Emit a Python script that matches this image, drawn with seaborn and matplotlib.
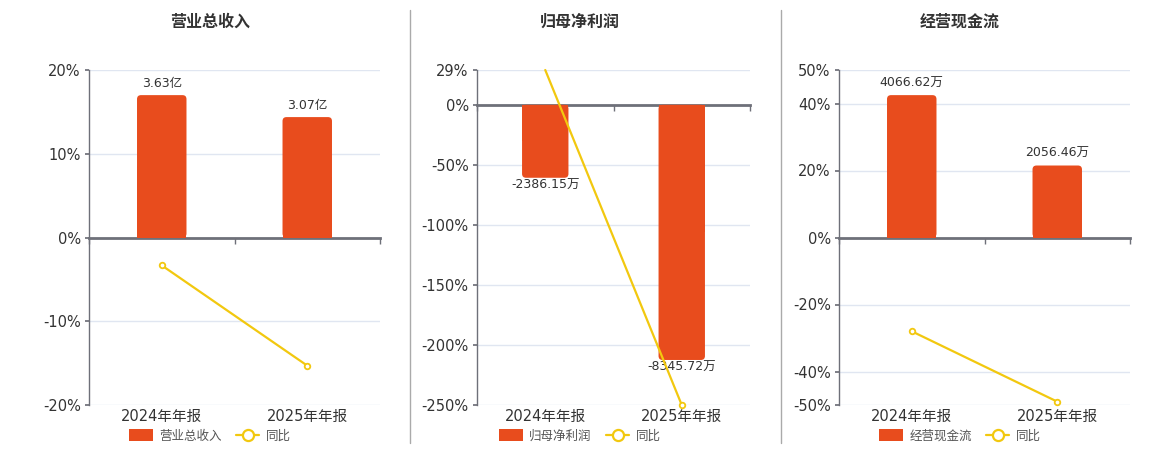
import matplotlib
matplotlib.use("Agg")
import matplotlib.pyplot as plt
import seaborn as sns
import pandas as pd
from matplotlib.patches import FancyBboxPatch, Rectangle, Patch
from matplotlib.lines import Line2D

sns.set_theme(style="white")
plt.rcParams['font.family'] = ['DejaVu Sans', 'Noto Sans CJK SC']

# ---------------- data ----------------
periods = ["2024年年报", "2025年年报"]

titles = ["营业总收入", "归母净利润", "经营现金流"]

revenue = [3.63, 3.07]            # 亿
revenue_labels = ["3.63亿", "3.07亿"]
revenue_yoy = [-3.33, -15.3]      # %

profit = [-2386.15, -8345.72]     # 万
profit_labels = ["-2386.15万", "-8345.72万"]
profit_yoy = [29.0, -250.0]       # %

cashflow = [4066.62, 2056.46]     # 万
cashflow_labels = ["4066.62万", "2056.46万"]
cashflow_yoy = [-28.0, -49.0]     # %

pct_ticks = [
    [20, 10, 0, -10, -20],
    [29, 0, -50, -100, -150, -200, -250],
    [50, 40, 20, 0, -20, -40, -50],
]

bar_values = [revenue, profit, cashflow]
bar_labels = [revenue_labels, profit_labels, cashflow_labels]
yoy_values = [revenue_yoy, profit_yoy, cashflow_yoy]

# ---------------- style ----------------
BAR = "#E84C1D"
LINE = "#F2C80F"
AXIS = "#6E7079"
GRID = "#E0E6F1"
TXT = "#333333"

W, H = 1160, 450
fig = plt.figure(figsize=(W / 100, H / 100), dpi=100)

panels_px = [(89, 380), (477, 750), (839, 1130)]
centers_px = [210, 580, 960]
top_px, bot_px = 70, 405


def rounded_bars(axb, container, r_px=4):
    fig.canvas.draw()
    bb = axb.get_window_extent()
    x0, x1 = axb.get_xlim()
    y0, y1 = axb.get_ylim()
    xpp = (x1 - x0) / bb.width
    ypp = (y1 - y0) / bb.height
    for p in container.patches:
        x, y = p.get_x(), p.get_y()
        w, h = p.get_width(), p.get_height()
        p.set_visible(False)
        rs = r_px * xpp
        fb = FancyBboxPatch((x, min(y, y + h)), w, abs(h),
                            boxstyle=f"round,pad=0,rounding_size={rs}",
                            mutation_aspect=ypp / xpp,
                            facecolor=BAR, edgecolor="none", zorder=2)
        axb.add_patch(fb)
        # square the end that sits on the zero line
        half = h / 2
        axb.add_patch(Rectangle((x, 0), w, half, facecolor=BAR,
                                edgecolor="none", zorder=2))


for i in range(3):
    lpx, rpx = panels_px[i]
    rect = [lpx / W, (H - bot_px) / H, (rpx - lpx) / W, (bot_px - top_px) / H]
    ax = fig.add_axes(rect)
    axb = ax.twinx()
    axl = ax.twinx()

    ticks = pct_ticks[i]
    lo, hi = min(ticks), max(ticks)

    # bar scale: largest bar fills 85% of its side
    vals = bar_values[i]
    mabs = max(abs(v) for v in vals)
    side = hi if max(vals) > 0 and abs(max(vals)) >= abs(min(vals)) else -lo
    k = mabs / (0.85 * side)

    df_bar = pd.DataFrame({"period": periods, "value": vals})
    sns.barplot(data=df_bar, x="period", y="value", order=periods, ax=axb,
                color=BAR, width=0.34, saturation=1, edgecolor="none")
    axb.set_ylim(lo * k, hi * k)
    axb.set_xlim(-0.5, 1.5)
    cont = axb.containers[0]
    neg = min(vals) < 0
    axb.bar_label(cont, labels=bar_labels[i], padding=1 if neg else 4,
                  fontsize=9, color=TXT)
    rounded_bars(axb, cont)
    axb.axis("off")

    yoy = yoy_values[i]
    shown = [j for j, v in enumerate(yoy) if v < hi]
    df_line = pd.DataFrame({"period": periods, "yoy": yoy})
    sns.pointplot(data=df_line, x="period", y="yoy", order=periods, ax=axl,
                  color=LINE, markers="o", linestyles="-",
                  markerfacecolor="white", markeredgecolor=LINE,
                  markersize=4, markeredgewidth=1.3, linewidth=1.6,
                  markevery=shown, clip_on=False)
    axl.set_ylim(lo, hi)
    axl.set_xlim(-0.5, 1.5)
    axl.axis("off")

    # main (percent) axis
    ax.set_ylim(lo, hi)
    ax.set_xlim(-0.5, 1.5)
    ax.set_yticks(ticks)
    ax.set_yticklabels([f"{t}%" for t in ticks], fontsize=10.5, color=TXT)
    ax.tick_params(axis="y", length=3, color=AXIS, pad=3, left=True)
    for t in ticks:
        if t != 0:
            ax.axhline(t, color=GRID, linewidth=1, zorder=0)
    for s in ["top", "right"]:
        ax.spines[s].set_visible(False)
    ax.spines["left"].set_color(AXIS)
    ax.spines["left"].set_linewidth(1)
    ax.spines["bottom"].set_position(("data", 0))
    ax.spines["bottom"].set_color(AXIS)
    ax.spines["bottom"].set_linewidth(2)
    ax.set_xticks([0, 1])
    ax.set_xticklabels(["", ""])
    ax.tick_params(axis="x", which="major", length=0)
    ax.set_xticks([-0.5, 0.5, 1.5], minor=True)
    ax.tick_params(axis="x", which="minor", length=4, width=1, color=AXIS,
                   bottom=True, direction="out")
    ax.set_xlabel("")
    ax.set_ylabel("")

    sec = ax.secondary_xaxis("bottom")
    sec.set_xticks([0, 1])
    sec.set_xticklabels(periods, fontsize=10.5, color=TXT)
    sec.tick_params(length=0, pad=3)
    sec.spines["bottom"].set_visible(False)

    # title
    fig.text(centers_px[i] / W, 1 - 22 / H, titles[i], ha="center",
             va="center", fontsize=11.5, fontweight="bold", color=TXT)

    # legend
    handles = [
        Patch(facecolor=BAR, edgecolor="none", label=titles[i]),
        Line2D([0], [0], color=LINE, linewidth=1.6, marker="o",
               markerfacecolor="white", markeredgecolor=LINE,
               markersize=8, markeredgewidth=1.6, label="同比"),
    ]
    fig.legend(handles=handles, loc="center",
               bbox_to_anchor=(centers_px[i] / W, 1 - 436 / H), ncol=2,
               frameon=False, fontsize=9, handlelength=1.9,
               handleheight=1.1, handletextpad=0.55, columnspacing=1.1,
               labelcolor="#555555")

# separators
for xs in [410, 781]:
    fig.add_artist(Line2D([xs / W, xs / W], [1 - 10 / H, 1 - 443 / H],
                          color="#AAAAAA", linewidth=1))

fig.savefig("out.png", dpi=100)
